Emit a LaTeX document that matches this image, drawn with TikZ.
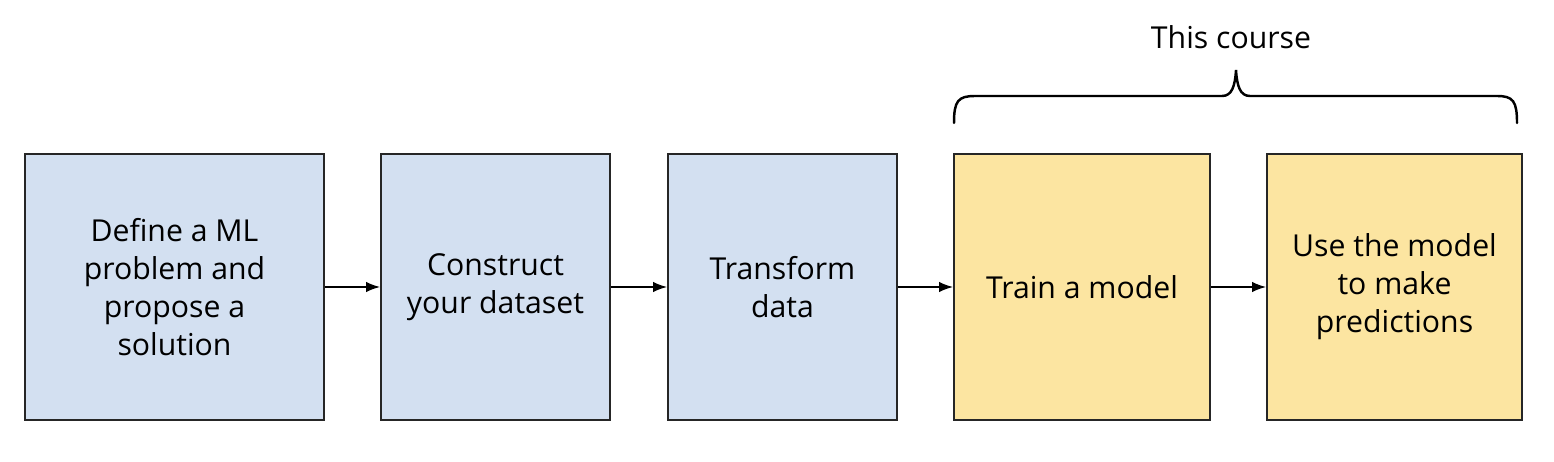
\documentclass[tikz,border=0pt]{standalone}
\usepackage{fontspec}
\setmainfont{Open Sans}
\usetikzlibrary{positioning,arrows.meta}
\definecolor{StageBlue}{RGB}{211,224,241}
\definecolor{StageYellow}{RGB}{252,229,161}
\tikzset{
  stage/.style={draw=black!85,line width=1.1pt,minimum height=5.32cm,inner sep=0pt,
    align=center,font=\fontsize{17.2}{21.6}\selectfont},
  bluestage/.style={stage,fill=StageBlue},
  yellowstage/.style={stage,fill=StageYellow},
  flow/.style={-{Latex[length=8pt,width=6pt]},line width=0.9pt},
  bracket/.style={line width=1.4pt,line cap=round},
}

\begin{document}
\begin{tikzpicture}[x=0.02cm,y=-0.02cm]
        \useasboundingbox (0,0) rectangle (1554,462);
        % pipeline stages
        \node[bluestage,minimum width=5.98cm] (define) at (174.5,287) {Define a ML\\problem and\\propose a\\solution};
        \node[bluestage,minimum width=4.58cm] (construct) at (495.5,287) {Construct\\your dataset};
        \node[bluestage,minimum width=4.58cm] (transform) at (782.5,287) {Transform\\data};
        \node[yellowstage,minimum width=5.12cm] (train) at (1082,287) {Train a model};
        \node[yellowstage,minimum width=5.10cm] (predict) at (1394.5,287) {Use the model\\to make\\predictions};
        \draw[flow] (define) -- (construct);
        \draw[flow] (construct) -- (transform);
        \draw[flow] (transform) -- (train);
        \draw[flow] (train) -- (predict);
        % course brace
        \draw[bracket] (954,123) .. controls (954,101) and (958,96) .. (975,96) -- (1222,96)
          .. controls (1232,96) and (1235,86) .. (1236,70)
          .. controls (1237,86) and (1240,96) .. (1250,96) -- (1497,96)
          .. controls (1513,96) and (1517,101) .. (1517,123);
        \node[font=\fontsize{17.2}{21.6}\selectfont] (course) at (1231,37) {This course};
      \end{tikzpicture}
\end{document}
